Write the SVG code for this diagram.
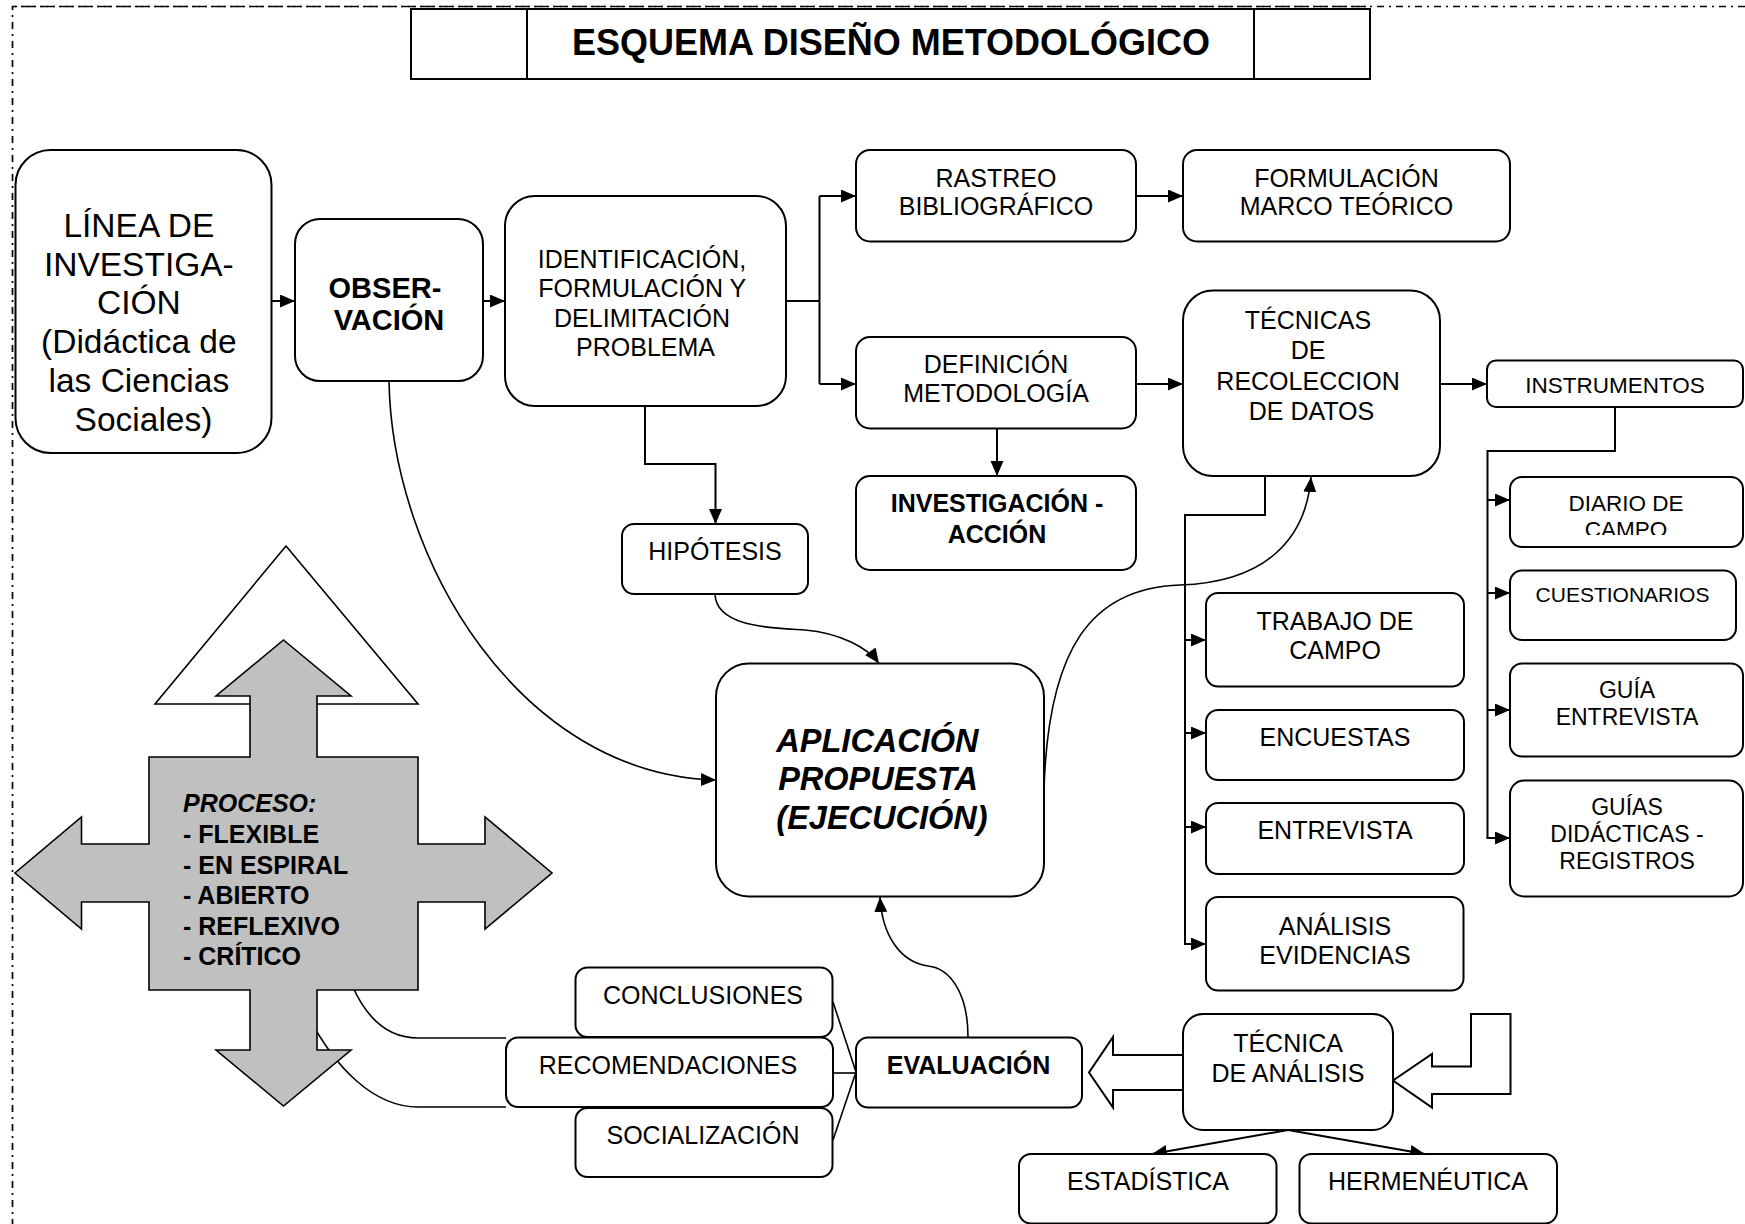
<svg xmlns="http://www.w3.org/2000/svg" width="1745" height="1224" viewBox="0 0 1745 1224">
  <defs>
    <style>
      .box { fill: #ffffff; stroke: #000000; stroke-width: 2; }
      .t { font-family: "Liberation Sans", Arial, sans-serif; font-size: 25px; fill: #000000; text-anchor: middle; }
      .b { font-weight: bold; }
      .bi { font-weight: bold; font-style: italic; }
      .ln { fill: none; stroke: #000000; stroke-width: 2; }
      .cv { fill: none; stroke: #000000; stroke-width: 1.6; }
      .blk { fill: #ffffff; stroke: #000000; stroke-width: 2; stroke-linejoin: miter; }
      .frame { fill: none; stroke: #000000; stroke-width: 1.7; stroke-dasharray: 7 5 2 5; }
    </style>
    <marker id="arr" markerUnits="userSpaceOnUse" markerWidth="16" markerHeight="14" refX="15" refY="6.5" orient="auto">
      <path d="M0,0 L15,6.5 L0,13 z" fill="#000000"/>
    </marker>
    <clipPath id="clipDiario">
      <rect x="1510" y="477" width="233" height="58"/>
    </clipPath>
  </defs>

  <!-- page frame (dash-dot), denser where two frame lines overlap along the top -->
  <path class="frame" d="M1745,6.5 H12.5 V1224"/>
  <path class="frame" d="M12.5,6.5 H1370" stroke-dashoffset="9.5"/>

  <!-- title -->
  <g id="title">
    <rect x="411" y="9" width="959" height="70" fill="#ffffff" stroke="#000000" stroke-width="2"/>
    <line x1="527" y1="9" x2="527" y2="79" stroke="#000000" stroke-width="2"/>
    <line x1="1254" y1="9" x2="1254" y2="79" stroke="#000000" stroke-width="2"/>
    <text class="t b" x="891" y="55" style="font-size:36px">ESQUEMA DISEÑO METODOLÓGICO</text>
  </g>

  <!-- open triangle behind the process cross -->
  <g id="proceso">
    <polygon points="286,546 418,704 155,704" fill="#ffffff" stroke="#000000" stroke-width="1.6"/>
  </g>

  <!-- connectors -->
  <g id="connectors">
    <!-- curves from recommendations toward the process cross (drawn beneath it) -->
    <path class="cv" d="M506,1038 H418 C385,1038 365,1015 352,985"/>
    <path class="cv" d="M506,1107 H418 C375,1107 335,1070 305,1010"/>

    <line class="ln" x1="271.5" y1="301" x2="295" y2="301" marker-end="url(#arr)"/>
    <line class="ln" x1="483" y1="301" x2="505" y2="301" marker-end="url(#arr)"/>
    <path class="ln" d="M786,301 H819.5"/>
    <path class="ln" d="M819.5,196 V384"/>
    <line class="ln" x1="819.5" y1="196" x2="856" y2="196" marker-end="url(#arr)"/>
    <line class="ln" x1="819.5" y1="384" x2="856" y2="384" marker-end="url(#arr)"/>
    <line class="ln" x1="1136" y1="196" x2="1183" y2="196" marker-end="url(#arr)"/>
    <line class="ln" x1="1136" y1="384" x2="1183" y2="384" marker-end="url(#arr)"/>
    <line class="ln" x1="997" y1="428.5" x2="997" y2="476" marker-end="url(#arr)"/>
    <line class="ln" x1="1440" y1="384" x2="1487" y2="384" marker-end="url(#arr)"/>
    <path class="ln" d="M645,406 V464 H715.5 V524" marker-end="url(#arr)"/>

    <!-- data collection techniques -->
    <path class="ln" d="M1265,476 V515 H1185 V944"/>
    <line class="ln" x1="1185" y1="640" x2="1206" y2="640" marker-end="url(#arr)"/>
    <line class="ln" x1="1185" y1="733" x2="1206" y2="733" marker-end="url(#arr)"/>
    <line class="ln" x1="1185" y1="827" x2="1206" y2="827" marker-end="url(#arr)"/>
    <line class="ln" x1="1184" y1="944" x2="1206" y2="944" marker-end="url(#arr)"/>

    <!-- instruments -->
    <path class="ln" d="M1615,407 V451 H1487.5 V838"/>
    <line class="ln" x1="1487" y1="500" x2="1510" y2="500" marker-end="url(#arr)"/>
    <line class="ln" x1="1487" y1="593" x2="1510" y2="593" marker-end="url(#arr)"/>
    <line class="ln" x1="1487" y1="710" x2="1510" y2="710" marker-end="url(#arr)"/>
    <line class="ln" x1="1486.5" y1="838" x2="1510" y2="838" marker-end="url(#arr)"/>

    <!-- curved links around the application node -->
    <path class="cv" d="M389,381 C392,560 520,775 716,780" marker-end="url(#arr)"/>
    <path class="cv" d="M715,594 C716,628 775,628 805,630 C840,633 868,648 879,663.5" marker-end="url(#arr)"/>
    <path class="cv" d="M1044,790 C1048,650 1090,588 1180,585 C1265,582 1306,540 1311,477" marker-end="url(#arr)"/>
    <path class="cv" d="M968,1037 C968,990 948,968 928,966 C900,962 882,935 880,897" marker-end="url(#arr)"/>

    <!-- results to evaluation -->
    <path class="cv" d="M833,1002 L856,1072"/>
    <path class="cv" d="M833,1073 H856"/>
    <path class="cv" d="M833,1140 L856,1072"/>

    <!-- analysis technique -->
    <line class="ln" x1="1288" y1="1130" x2="1152" y2="1154" marker-end="url(#arr)"/>
    <line class="ln" x1="1288" y1="1130" x2="1425" y2="1154" marker-end="url(#arr)"/>
    <polygon class="blk" points="1183,1055 1113,1055 1113,1037 1089,1072.5 1113,1107.5 1113,1090 1183,1090"/>
    <polygon class="blk" points="1393,1080.5 1432,1054 1432,1066.5 1471,1066.5 1471,1014 1510.5,1014 1510.5,1094 1432,1094 1432,1107.5"/>
  </g>

  <g id="proceso-cruz">
    <polygon points="283.5,640 351,696 317,696 317,757 418,757 418,844 485,844 485,817 552,873 485,929 485,902 418,902 418,990 317,990 317,1050 351,1050 283.5,1106 216,1050 250,1050 250,990 149,990 149,902 81.5,902 81.5,929 15,873 81.5,817 81.5,844 149,844 149,757 250,757 250,696 216,696" fill="#c0c0c0" stroke="#000000" stroke-width="1.6"/>
    <text class="t" style="text-anchor:start" x="183">
      <tspan class="bi" x="183" y="812">PROCESO:</tspan>
      <tspan class="b" x="183" y="843">- FLEXIBLE</tspan>
      <tspan class="b" x="183" y="873.5">- EN ESPIRAL</tspan>
      <tspan class="b" x="183" y="904">- ABIERTO</tspan>
      <tspan class="b" x="183" y="935">- REFLEXIVO</tspan>
      <tspan class="b" x="183" y="965">- CRÍTICO</tspan>
    </text>
  </g>

  <g id="linea-investigacion">
    <rect class="box" x="15.5" y="150" width="256" height="303" rx="35"/>
    <text class="t" style="font-size:33.5px">
      <tspan x="143.5" y="237">LÍNEA DE</tspan>
      <tspan x="143.5" y="276">INVESTIGA-</tspan>
      <tspan x="143.5" y="314">CIÓN</tspan>
      <tspan x="143.5" y="353">(Didáctica de</tspan>
      <tspan x="143.5" y="392">las Ciencias</tspan>
      <tspan x="143.5" y="431">Sociales)</tspan>
    </text>
  </g>

  <g id="observacion">
    <rect class="box" x="295" y="219" width="188" height="162" rx="25"/>
    <text class="t b" style="font-size:29px">
      <tspan x="389" y="298">OBSER-</tspan>
      <tspan x="389" y="330">VACIÓN</tspan>
    </text>
  </g>

  <g id="identificacion">
    <rect class="box" x="505" y="196" width="281" height="210" rx="30"/>
    <text class="t">
      <tspan x="645.5" y="268">IDENTIFICACIÓN,</tspan>
      <tspan x="645.5" y="297">FORMULACIÓN Y</tspan>
      <tspan x="645.5" y="327">DELIMITACIÓN</tspan>
      <tspan x="645.5" y="356">PROBLEMA</tspan>
    </text>
  </g>

  <g id="rastreo">
    <rect class="box" x="856" y="150" width="280" height="91.5" rx="14"/>
    <text class="t"><tspan x="996" y="186.5">RASTREO</tspan><tspan x="996" y="215">BIBLIOGRÁFICO</tspan></text>
  </g>

  <g id="marco-teorico">
    <rect class="box" x="1183" y="150" width="327" height="91.5" rx="14"/>
    <text class="t"><tspan x="1346.5" y="186.5">FORMULACIÓN</tspan><tspan x="1346.5" y="215">MARCO TEÓRICO</tspan></text>
  </g>

  <g id="metodologia">
    <rect class="box" x="856" y="337" width="280" height="91.5" rx="14"/>
    <text class="t"><tspan x="996" y="373">DEFINICIÓN</tspan><tspan x="996" y="401.5">METODOLOGÍA</tspan></text>
  </g>

  <g id="investigacion-accion">
    <rect class="box" x="856" y="476" width="280" height="94" rx="14"/>
    <text class="t b"><tspan x="997" y="511.5">INVESTIGACIÓN -</tspan><tspan x="997" y="542.5">ACCIÓN</tspan></text>
  </g>

  <g id="tecnicas-recoleccion">
    <rect class="box" x="1183" y="290.5" width="257" height="185.5" rx="30"/>
    <text class="t">
      <tspan x="1311.5" y="328.5">TÉCNICAS</tspan>
      <tspan x="1311.5" y="359">DE</tspan>
      <tspan x="1311.5" y="389.5">RECOLECCION</tspan>
      <tspan x="1311.5" y="419.5">DE DATOS</tspan>
    </text>
  </g>

  <g id="instrumentos">
    <rect class="box" x="1487" y="360.5" width="256" height="46.5" rx="9"/>
    <text class="t" style="font-size:22.5px" x="1615" y="392.5">INSTRUMENTOS</text>
  </g>

  <g id="diario-campo">
    <rect class="box" x="1510" y="477" width="233" height="70" rx="12"/>
    <text class="t" style="font-size:22.5px" clip-path="url(#clipDiario)"><tspan x="1626" y="510.5">DIARIO DE</tspan><tspan x="1626" y="537">CAMPO</tspan></text>
  </g>

  <g id="cuestionarios">
    <rect class="box" x="1510" y="570.5" width="226" height="69.5" rx="12"/>
    <text class="t" style="font-size:21px" x="1622.5" y="601.5">CUESTIONARIOS</text>
  </g>

  <g id="guia-entrevista">
    <rect class="box" x="1510" y="663.5" width="233" height="93" rx="12"/>
    <text class="t" style="font-size:23px"><tspan x="1627" y="698">GUÍA</tspan><tspan x="1627" y="725">ENTREVISTA</tspan></text>
  </g>

  <g id="guias-didacticas">
    <rect class="box" x="1510" y="780.5" width="233" height="116" rx="14"/>
    <text class="t" style="font-size:23px"><tspan x="1627" y="815">GUÍAS</tspan><tspan x="1627" y="841.5">DIDÁCTICAS -</tspan><tspan x="1627" y="868.5">REGISTROS</tspan></text>
  </g>

  <g id="trabajo-campo">
    <rect class="box" x="1206" y="593" width="258" height="93.5" rx="12"/>
    <text class="t"><tspan x="1335" y="630">TRABAJO DE</tspan><tspan x="1335" y="659">CAMPO</tspan></text>
  </g>

  <g id="encuestas">
    <rect class="box" x="1206" y="710" width="258" height="70" rx="12"/>
    <text class="t" x="1335" y="746">ENCUESTAS</text>
  </g>

  <g id="entrevista">
    <rect class="box" x="1206" y="803" width="258" height="71" rx="12"/>
    <text class="t" x="1335" y="839">ENTREVISTA</text>
  </g>

  <g id="analisis-evidencias">
    <rect class="box" x="1206" y="897" width="257.5" height="93.5" rx="12"/>
    <text class="t"><tspan x="1335" y="935">ANÁLISIS</tspan><tspan x="1335" y="963.5">EVIDENCIAS</tspan></text>
  </g>

  <g id="hipotesis">
    <rect class="box" x="622" y="524" width="186" height="70" rx="12"/>
    <text class="t" x="715" y="559.5">HIPÓTESIS</text>
  </g>

  <g id="aplicacion">
    <rect class="box" x="716" y="663.5" width="328" height="233" rx="33"/>
    <text class="t bi" style="font-size:32.5px">
      <tspan x="882" y="751.5">APLICACIÓN</tspan>
      <tspan x="882" y="790">PROPUESTA</tspan>
      <tspan x="882" y="828.5">(EJECUCIÓN)</tspan>
    </text>
  </g>

  <g id="conclusiones">
    <rect class="box" x="575.5" y="967.5" width="257" height="69.5" rx="12"/>
    <text class="t" x="703" y="1003.5">CONCLUSIONES</text>
  </g>

  <g id="socializacion">
    <rect class="box" x="575.5" y="1108" width="257" height="69" rx="12"/>
    <text class="t" x="703" y="1143.5">SOCIALIZACIÓN</text>
  </g>

  <g id="recomendaciones">
    <rect class="box" x="506" y="1037.5" width="327" height="69.5" rx="12"/>
    <text class="t" x="668" y="1073.5">RECOMENDACIONES</text>
  </g>

  <g id="evaluacion">
    <rect class="box" x="856" y="1037.5" width="226" height="70" rx="12"/>
    <text class="t b" x="968.5" y="1073.5">EVALUACIÓN</text>
  </g>

  <g id="tecnica-analisis">
    <rect class="box" x="1183" y="1014" width="210" height="116" rx="20"/>
    <text class="t"><tspan x="1288" y="1051.5">TÉCNICA</tspan><tspan x="1288" y="1081.5">DE ANÁLISIS</tspan></text>
  </g>

  <g id="estadistica">
    <rect class="box" x="1019" y="1154" width="257.5" height="69.5" rx="12"/>
    <text class="t" x="1148" y="1189.5">ESTADÍSTICA</text>
  </g>

  <g id="hermeneutica">
    <rect class="box" x="1299.5" y="1154" width="257.5" height="69.5" rx="12"/>
    <text class="t" x="1428" y="1189.5">HERMENÉUTICA</text>
  </g>
</svg>
